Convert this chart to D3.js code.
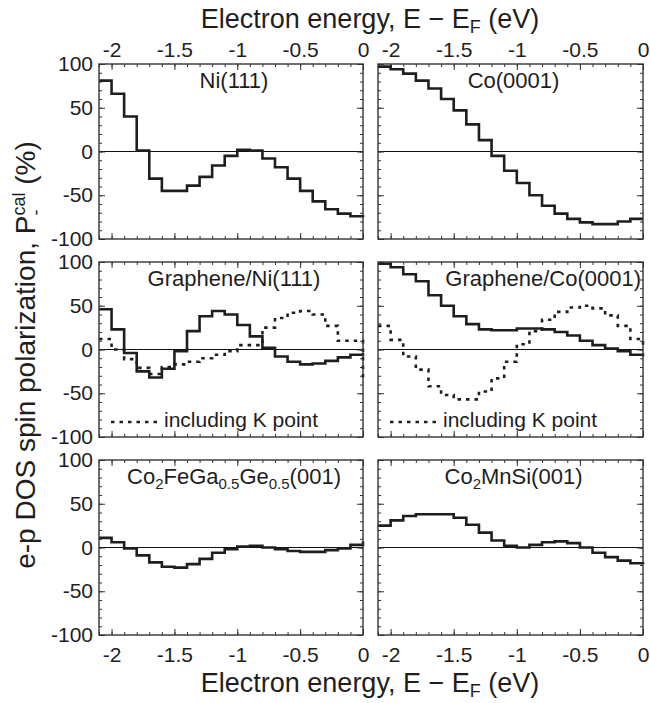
<!doctype html>
<html>
  <head>
    <meta charset="utf-8">
    <script src="https://cdn.jsdelivr.net/npm/d3@7"></script>
    <style>
      body {
          margin: 0;
          background: #fff;
          font-family: "Liberation Sans", Arial, Helvetica, sans-serif;
      }
      text { fill: #1e1e1e; }
      .domain { display: none; }
      .tick line { stroke: #333; stroke-width: 1; }
      .tick text { font-size: 21px; fill: #1e1e1e; font-family: "Liberation Sans", Arial, sans-serif; }
      .frame { fill: none; stroke: #333; stroke-width: 1.4; }
      .zero { stroke: #111; stroke-width: 1; }
      .dos { fill: none; stroke: #1e1e1e; stroke-width: 2.6; }
      .dos.k { stroke-dasharray: 3.5,5; stroke-width: 2.6; }
      .title { font-size: 27px; }
      .ytitle { font-size: 28px; }
      .label { font-size: 22px; }
      .legend { font-size: 21px; }
    </style>
  </head>
  <body>
    <script>
        // bin start energies (eV), last entry is the end of the range at E_F
        var energy = [-2.1, -2.0, -1.9, -1.8, -1.7, -1.6, -1.5, -1.4, -1.3, -1.2, -1.1,
                      -1.0, -0.9, -0.8, -0.7, -0.6, -0.5, -0.4, -0.3, -0.2, -0.1, 0];

        // spin polarization (%) per bin, last value is the end point at E_F
        var niSolid    = [81, 66, 40, 1, -31, -45, -45, -39, -29, -16, -5, 2, 1, -8, -18, -31, -45, -57, -66, -71, -74, -75];
        var coSolid    = [97, 94, 89, 81, 72, 60, 47, 31, 13, -5, -22, -36, -50, -62, -71, -77, -81, -83, -83, -80, -77, -77];
        var grNiSolid  = [46, 23, -4, -25, -32, -22, -2, 21, 38, 44, 40, 28, 15, 2, -8, -14, -17, -16, -13, -9, -6, -4];
        var grNiK      = [12, 0, -11, -21, -28, -20, -17, -14, -10, -6, -2, 5, 5, 25, 36, 42, 44, 40, 27, 10, 10, -38];
        var grCoSolid  = [98, 94, 86, 78, 62, 50, 38, 29, 23, 22, 22, 24, 24, 23, 20, 16, 10, 5, 1, -2, -6, -8];
        var grCoK      = [27, 11, -8, -23, -42, -52, -57, -57, -48, -33, -14, 6, 21, 34, 43, 48, 50, 47, 39, 27, 12, 5];
        var cfgSolid   = [11, 6, -1, -9, -17, -22, -23, -19, -13, -6, -2, 1, 2, 0, -2, -4, -5, -5, -3, -1, 3, 7];
        var cmsSolid   = [25, 31, 36, 38, 38, 38, 34, 26, 17, 8, 2, 0, 3, 6, 7, 5, 0, -6, -11, -15, -18, -19];

        var xTicks = [-2, -1.5, -1, -0.5, 0];
        var yTicks = [-100, -50, 0, 50, 100];

        var panels = [
            {row: 0, col: 0, label: [["Ni(111)"]], series: [niSolid]},
            {row: 0, col: 1, label: [["Co(0001)"]], series: [coSolid]},
            {row: 1, col: 0, label: [["Graphene/Ni(111)"]], series: [grNiSolid], k: grNiK},
            {row: 1, col: 1, label: [["Graphene/Co(0001)"]], series: [grCoSolid], k: grCoK, anchor: "end"},
            {row: 2, col: 0, label: [["Co"], ["2", 1], ["FeGa"], ["0.5", 1], ["Ge"], ["0.5", 1], ["(001)"]], series: [cfgSolid]},
            {row: 2, col: 1, label: [["Co"], ["2", 1], ["MnSi(001)"]], series: [cmsSolid]}
        ];

        var colX = [[99, 363], [378, 643]];
        var rowY = [[64, 239], [262, 437], [460, 635]];

        var minorX = d3.range(-21, 1).map(d => d / 10);
        var minorY = d3.range(-100, 101, 10);

        var svg = d3.select("body").append("svg")
            .attr("width", 650)
            .attr("height", 703);

        panels.forEach(function(p) {
            var x = d3.scaleLinear().domain([-2.1, 0]).range(colX[p.col]);
            var y = d3.scaleLinear().domain([-100, 100]).range([rowY[p.row][1], rowY[p.row][0]]);
            var g = svg.append("g");
            var fmt = d => String(d);

            // zero line
            g.append("line")
                .attr("class", "zero")
                .attr("x1", x(-2.1)).attr("x2", x(0))
                .attr("y1", y(0)).attr("y2", y(0));

            // minor + major ticks, all pointing inward
            g.append("g").attr("transform", `translate(0,${y(-100)})`)
                .call(d3.axisBottom(x).tickValues(minorX).tickSize(-3).tickFormat(""));
            g.append("g").attr("transform", `translate(0,${y(-100)})`)
                .call(d3.axisBottom(x).tickValues(xTicks).tickSize(-6).tickPadding(12)
                    .tickFormat(p.row == 2 ? fmt : ""));
            g.append("g").attr("transform", `translate(0,${y(100)})`)
                .call(d3.axisTop(x).tickValues(minorX).tickSize(-3).tickFormat(""));
            g.append("g").attr("transform", `translate(0,${y(100)})`)
                .call(d3.axisTop(x).tickValues(xTicks).tickSize(-6).tickPadding(7)
                    .tickFormat(p.row == 0 ? fmt : ""));
            g.append("g").attr("transform", `translate(${x(-2.1)},0)`)
                .call(d3.axisLeft(y).tickValues(minorY).tickSize(-3).tickFormat(""));
            g.append("g").attr("transform", `translate(${x(-2.1)},0)`)
                .call(d3.axisLeft(y).tickValues(yTicks).tickSize(-6).tickPadding(6)
                    .tickFormat(p.col == 0 ? fmt : ""));
            g.append("g").attr("transform", `translate(${x(0)},0)`)
                .call(d3.axisRight(y).tickValues(minorY).tickSize(-3).tickFormat(""));
            g.append("g").attr("transform", `translate(${x(0)},0)`)
                .call(d3.axisRight(y).tickValues(yTicks).tickSize(-6).tickFormat(""));

            var line = d3.line()
                .x((d, i) => x(energy[i]))
                .y(d => y(d))
                .curve(d3.curveStepAfter);

            if (p.k) {
                g.append("path").attr("class", "dos k").attr("d", line(p.k));
                // legend
                var ly = y(-100) - 15;
                g.append("line").attr("class", "dos k")
                    .attr("x1", x(-2.1) + 12).attr("x2", x(-2.1) + 58)
                    .attr("y1", ly).attr("y2", ly);
                g.append("text").attr("class", "legend")
                    .attr("x", x(-2.1) + 65).attr("y", y(-100) - 10)
                    .text("including K point");
            }
            p.series.forEach(function(s) {
                g.append("path").attr("class", "dos").attr("d", line(s));
            });

            // panel label
            var t = g.append("text").attr("class", "label")
                .attr("x", p.anchor == "end" ? x(0) - 2 : (x(-2.1) + x(0)) / 2 + 3)
                .attr("y", y(100) + 24)
                .attr("text-anchor", p.anchor || "middle");
            var low = false;
            p.label.forEach(function(part) {
                var ts = t.append("tspan").text(part[0]);
                if (part[1] && !low) { ts.attr("dy", 5).attr("font-size", 15); low = true; }
                else if (part[1]) { ts.attr("font-size", 15); }
                else if (low) { ts.attr("dy", -5); low = false; }
            });

            g.append("rect").attr("class", "frame")
                .attr("x", x(-2.1)).attr("y", y(100))
                .attr("width", x(0) - x(-2.1)).attr("height", y(-100) - y(100));
        });

        // axis titles
        function energyTitle(yPos) {
            var t = svg.append("text").attr("class", "title")
                .attr("x", 370).attr("y", yPos).attr("text-anchor", "middle");
            t.append("tspan").text("Electron energy, E \u2212 E");
            t.append("tspan").text("F").attr("font-size", 18).attr("dy", 5);
            t.append("tspan").text(" (eV)").attr("dy", -5);
        }
        energyTitle(28);
        energyTitle(692);

        var yt = svg.append("text").attr("class", "ytitle")
            .attr("text-anchor", "middle")
            .attr("transform", "translate(35,355) rotate(-90)");
        yt.append("tspan").text("e-p DOS spin polarization, P");
        yt.append("tspan").text("-").attr("font-size", 18).attr("dy", 7);
        yt.append("tspan").text("cal").attr("font-size", 18).attr("dx", -6).attr("dy", -17);
        yt.append("tspan").text(" (%)").attr("dy", 10);
    </script>
  </body>
</html>
